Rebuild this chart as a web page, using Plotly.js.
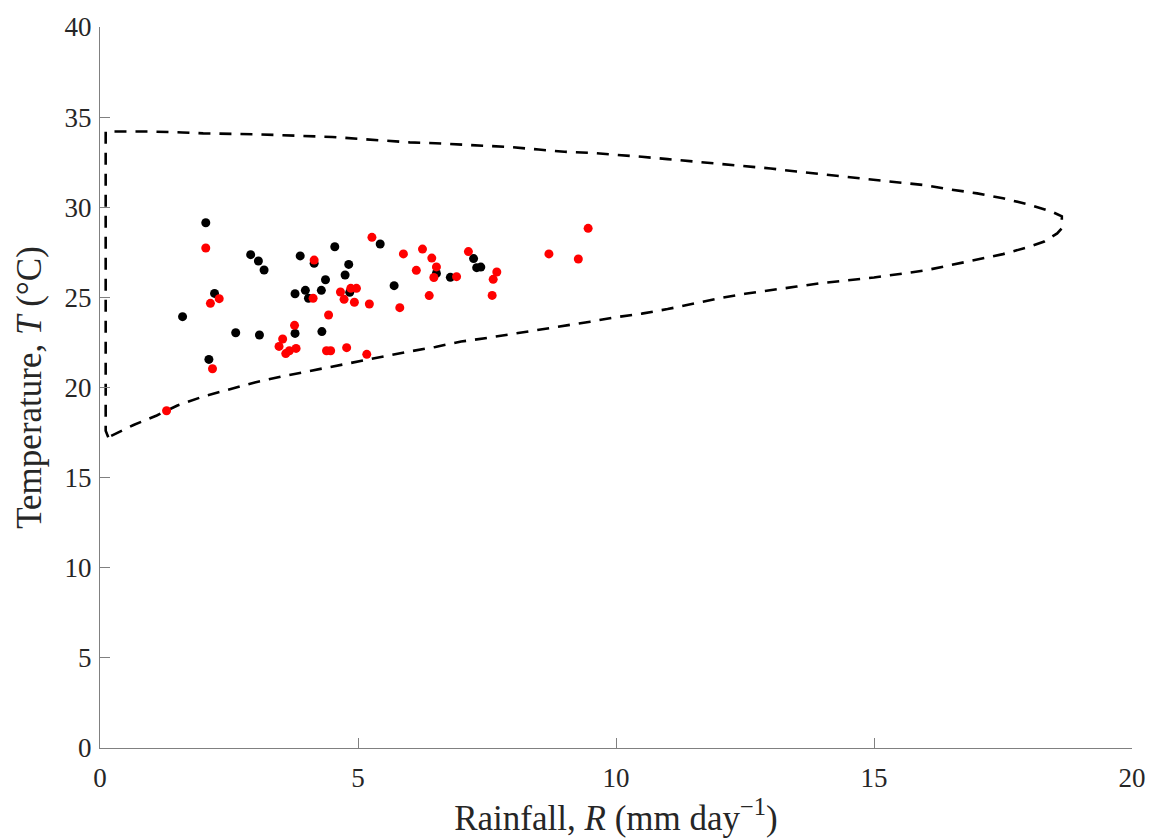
<!DOCTYPE html>
<html>
<head>
<meta charset="utf-8">
<script src="https://cdn.plot.ly/plotly-3.0.1.min.js"></script>
<style>html,body{margin:0;padding:0;background:#fff;}#chart{width:1157px;height:840px;}</style>
</head>
<body>
<div id="chart"></div>
<script>
// Black points: rainfall (mm/day) and temperature (°C)
const blackR = [2.05,1.60,2.22,2.11,2.92,3.07,3.18,2.63,3.09,3.88,3.78,3.98,4.04,3.78,4.15,4.29,4.37,4.30,4.55,4.82,4.75,4.84,5.43,5.70,6.52,6.79,7.24,7.30,7.38];
const blackT = [29.14,23.93,25.22,21.56,27.37,27.02,26.52,23.04,22.91,27.30,25.20,25.39,24.95,23.00,26.89,25.39,25.98,23.10,27.81,26.83,26.24,25.28,27.96,25.65,26.33,26.11,27.15,26.65,26.68];

// Red points
const redR = [2.05,2.14,2.31,2.18,1.29,3.77,3.54,3.47,3.60,3.67,3.80,4.15,4.13,4.43,4.39,4.47,4.78,4.66,4.73,4.86,4.97,4.93,5.17,5.22,5.27,5.88,5.81,6.13,6.25,6.43,6.52,6.47,6.38,6.91,7.14,7.69,7.62,7.60,8.70,9.27,9.46];
const redT = [27.74,24.67,24.93,21.04,18.71,23.45,22.69,22.28,21.88,22.04,22.17,27.07,24.95,24.02,22.04,22.04,22.21,25.30,24.89,25.50,25.50,24.73,21.84,24.63,28.33,27.41,24.43,26.50,27.68,27.18,26.69,26.10,25.10,26.15,27.54,26.41,26.00,25.11,27.41,27.13,28.83];

// Dashed envelope (closed boundary)
const envR = [0.16,0.11,0.11,1.0,1.6,2.0,3.0,4.0,4.5,5.0,5.5,6.0,6.5,7.0,7.5,8.0,8.5,9.0,9.5,10.0,10.5,11.0,11.5,12.0,12.5,13.0,13.5,14.0,14.5,15.0,15.5,16.0,16.5,17.0,17.5,18.0,18.45,18.64,18.64,18.55,18.3,18.0,17.5,17.0,16.5,16.0,15.5,15.0,14.5,14.0,13.5,13.0,12.5,12.0,11.5,11.0,10.5,10.0,9.5,9.0,8.5,8.0,7.5,7.0,6.5,6.0,5.5,5.0,4.5,4.0,3.5,3.0,2.5,2.0,1.5,1.1,0.65,0.16];
const envT = [17.24,17.6,34.2,34.2,34.15,34.1,34.05,33.95,33.9,33.8,33.7,33.6,33.55,33.47,33.4,33.33,33.2,33.08,33.02,32.92,32.8,32.67,32.55,32.43,32.3,32.15,31.98,31.83,31.7,31.55,31.4,31.22,30.98,30.77,30.5,30.15,29.75,29.5,28.83,28.55,28.1,27.8,27.4,27.1,26.8,26.5,26.3,26.1,25.95,25.8,25.6,25.4,25.2,24.95,24.65,24.35,24.1,23.9,23.65,23.42,23.2,22.98,22.75,22.55,22.25,22.0,21.72,21.45,21.15,20.9,20.6,20.28,19.9,19.5,19.0,18.45,17.92,17.24];

const serif = '"Liberation Serif", "DejaVu Serif", serif';

const traces = [
  {x: envR, y: envT, mode: 'lines', type: 'scatter', line: {color: '#000', width: 2.6, dash: '12px,9px'}, hoverinfo: 'skip'},
  {x: blackR, y: blackT, mode: 'markers', type: 'scatter', marker: {color: '#000', size: 9}},
  {x: redR, y: redT, mode: 'markers', type: 'scatter', marker: {color: '#ff0000', size: 9}}
];

const axisCommon = {
  showgrid: false, zeroline: false, showline: true, linecolor: '#808080', linewidth: 1,
  ticks: 'inside', ticklen: 10, tickcolor: '#808080', tickwidth: 1,
  tickfont: {family: serif, size: 27, color: '#262626'}
};

const layout = {
  width: 1157, height: 840,
  margin: {l: 100, r: 25, t: 27, b: 92},
  paper_bgcolor: '#fff', plot_bgcolor: '#fff',
  showlegend: false,
  xaxis: Object.assign({}, axisCommon, {
    range: [0, 20], tickvals: [0, 5, 10, 15, 20], ticklabelstandoff: 6,
    title: {text: 'Rainfall, <i>R</i> (mm day<sup>−1</sup>)', font: {family: serif, size: 35, color: '#262626'}, standoff: 4}
  }),
  yaxis: Object.assign({}, axisCommon, {
    range: [0, 40], tickvals: [0, 5, 10, 15, 20, 25, 30, 35, 40], ticklabelstandoff: 2,
    title: {text: 'Temperature, <i>T</i> (°C)', font: {family: serif, size: 35, color: '#262626'}, standoff: 12}
  })
};

Plotly.newPlot('chart', traces, layout, {displayModeBar: false, staticPlot: true});
</script>
</body>
</html>
